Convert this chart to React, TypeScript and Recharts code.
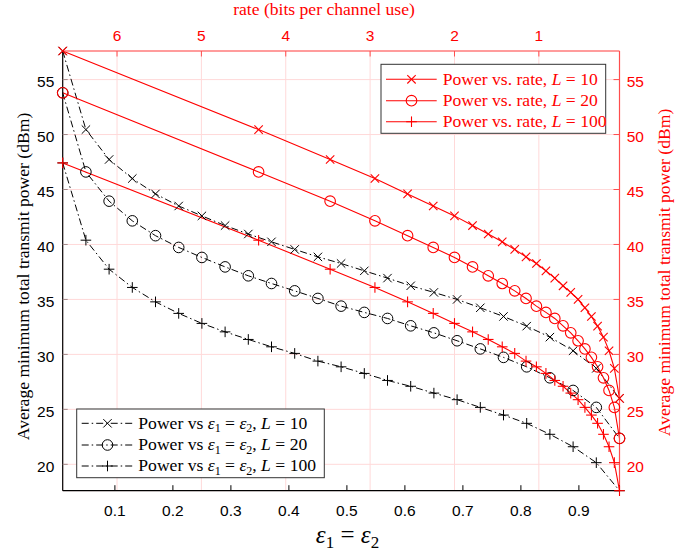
import React from "react";
import { LineChart, Line, XAxis, YAxis, CartesianGrid } from "recharts";

// ---- data ----
const epsValues = [0.01, 0.05, 0.09, 0.13, 0.17, 0.21, 0.25, 0.29, 0.33, 0.37, 0.41, 0.45, 0.49, 0.53, 0.57, 0.61, 0.65, 0.69, 0.73, 0.77, 0.81, 0.85, 0.89, 0.93, 0.97];
const rateValues = [6.644, 4.322, 3.474, 2.943, 2.556, 2.252, 2.0, 1.786, 1.6, 1.434, 1.286, 1.152, 1.029, 0.916, 0.811, 0.713, 0.622, 0.535, 0.454, 0.377, 0.304, 0.234, 0.168, 0.105, 0.044];
const powerL10 = [57.6, 50.45, 47.73, 46.0, 44.6, 43.5, 42.6, 41.72, 40.95, 40.24, 39.55, 38.87, 38.27, 37.6, 36.94, 36.24, 35.64, 35.0, 34.24, 33.45, 32.57, 31.57, 30.33, 28.73, 26.0];
const powerL20 = [53.8, 46.6, 43.94, 42.15, 40.8, 39.73, 38.82, 37.96, 37.15, 36.45, 35.78, 35.09, 34.39, 33.82, 33.27, 32.6, 31.96, 31.24, 30.5, 29.73, 28.87, 27.87, 26.72, 25.18, 22.36];
const powerL100 = [47.42, 40.39, 37.75, 36.09, 34.78, 33.73, 32.82, 32.05, 31.36, 30.69, 30.09, 29.39, 28.87, 28.27, 27.63, 27.1, 26.48, 25.88, 25.18, 24.48, 23.73, 22.73, 21.6, 20.15, 17.6];

const epsTicks = [0.1, 0.2, 0.3, 0.4, 0.5, 0.6, 0.7, 0.8, 0.9];
const rateTicks = [1, 2, 3, 4, 5, 6];
const powerTicks = [20, 25, 30, 35, 40, 45, 50, 55];
const epsDomain = [0.01, 0.97];
const rateDomain = [0.044, 6.644];
const powerDomain = [17.6, 57.6];

const rows = epsValues.map((e, i) => ({
  eps: e,
  rate: rateValues[i],
  p10: powerL10[i],
  p20: powerL20[i],
  p100: powerL100[i],
}));

// ---- styles ----
const RED = "#ff0000";
const RED_AXIS = "#ff4d4d";
const GRID = "#ffd9d9";
const SANS = "'Liberation Sans', Arial, Helvetica, sans-serif";
const SERIF = "'Liberation Serif', 'Times New Roman', Times, serif";
const TICK_FS = 15.5;
const TITLE_FS = 17.6;
const DASHDOT = "7 3 1.5 3";

type MarkerKind = "x" | "o" | "+";

function Marker({ kind, cx, cy, color, sw }: { kind: MarkerKind; cx: number; cy: number; color: string; sw: number }) {
  if (cx == null || cy == null || isNaN(cx) || isNaN(cy)) return null;
  if (kind === "x") {
    const h = 4.2;
    return (
      <g>
        <line x1={cx - h} y1={cy - h} x2={cx + h} y2={cy + h} stroke={color} strokeWidth={sw} />
        <line x1={cx - h} y1={cy + h} x2={cx + h} y2={cy - h} stroke={color} strokeWidth={sw} />
      </g>
    );
  }
  if (kind === "o") {
    return <circle cx={cx} cy={cy} r={5.3} fill="none" stroke={color} strokeWidth={sw} />;
  }
  const h = 5.3;
  return (
    <g>
      <line x1={cx - h} y1={cy} x2={cx + h} y2={cy} stroke={color} strokeWidth={sw} />
      <line x1={cx} y1={cy - h} x2={cx} y2={cy + h} stroke={color} strokeWidth={sw} />
    </g>
  );
}

const makeDot = (kind: MarkerKind, color: string, sw: number) => (props: any) => (
  <Marker key={`${kind}-${color}-${props.index}`} kind={kind} cx={props.cx} cy={props.cy} color={color} sw={sw} />
);

// ---- ticks ----
const BottomTick = (props: any) => {
  const { x, y, payload } = props;
  return (
    <g>
      <line x1={x} x2={x} y1={y} y2={y - 5.5} stroke="#000" strokeWidth={1} />
      <text x={x} y={y + 25} textAnchor="middle" fontSize={TICK_FS} fontFamily={SANS} fill="#000">
        {String(payload.value)}
      </text>
    </g>
  );
};
const LeftTick = (props: any) => {
  const { x, y, payload } = props;
  return (
    <g>
      <line x1={x} x2={x + 5} y1={y} y2={y} stroke="#a08888" strokeWidth={1} />
      <text x={x - 8.4} y={y + 7.3} textAnchor="end" fontSize={TICK_FS} fontFamily={SANS} fill="#000">
        {String(payload.value)}
      </text>
    </g>
  );
};
const RightTick = (props: any) => {
  const { x, y, payload } = props;
  return (
    <g>
      <line x1={x} x2={x - 6} y1={y} y2={y} stroke={RED_AXIS} strokeWidth={1} />
      <text x={x + 7.2} y={y + 7.8} textAnchor="start" fontSize={TICK_FS} fontFamily={SANS} fill={RED}>
        {String(payload.value)}
      </text>
    </g>
  );
};
const TopTick = (props: any) => {
  const { x, y, payload } = props;
  return (
    <g>
      <line x1={x} x2={x} y1={y} y2={y + 5.5} stroke={RED_AXIS} strokeWidth={1} />
      <text x={x} y={y - 10} textAnchor="middle" fontSize={TICK_FS} fontFamily={SANS} fill={RED}>
        {String(payload.value)}
      </text>
    </g>
  );
};

function BlackLegendRow({ y, kind, label }: { y: number; kind: MarkerKind; label: string }) {
  return (
    <g>
      <line x1={81.7} x2={133.3} y1={y} y2={y} stroke="#000" strokeWidth={1} strokeDasharray={DASHDOT} />
      <Marker kind={kind} cx={107.5} cy={y} color="#000" sw={1} />
      <text x={138.3} y={y + 5.3} fontFamily={SERIF} fontSize={TITLE_FS} fill="#000">
        {"Power vs "}
        <tspan fontStyle="italic">{"ε"}</tspan>
        <tspan fontSize={12} dy={3.5}>{"1"}</tspan>
        <tspan dy={-3.5}>{" = "}</tspan>
        <tspan fontStyle="italic">{"ε"}</tspan>
        <tspan fontSize={12} dy={3.5}>{"2"}</tspan>
        <tspan dy={-3.5}>{", "}</tspan>
        <tspan fontStyle="italic">{"L"}</tspan>
        <tspan>{" = " + label}</tspan>
      </text>
    </g>
  );
}

function RedLegendRow({ y, kind, label }: { y: number; kind: MarkerKind; label: string }) {
  return (
    <g>
      <line x1={386} x2={436.7} y1={y} y2={y} stroke={RED} strokeWidth={1.1} />
      <Marker kind={kind} cx={411.5} cy={y} color={RED} sw={1.1} />
      <text x={442.7} y={y + 5.3} fontFamily={SERIF} fontSize={TITLE_FS} fill={RED}>
        {"Power vs. rate, "}
        <tspan fontStyle="italic">{"L"}</tspan>
        <tspan>{" = " + label}</tspan>
      </text>
    </g>
  );
}

export default function App() {
  return (
    <div style={{ position: "absolute", left: 0, top: 0, width: 700, height: 553, background: "#fff" }}>
      <LineChart width={700} height={553} data={rows} margin={{ top: 0, right: 0, bottom: 0, left: 0 }}>
        <CartesianGrid xAxisId="rate" yAxisId="right" stroke={GRID} strokeWidth={1} />
        <XAxis
          xAxisId="eps"
          dataKey="eps"
          type="number"
          orientation="bottom"
          domain={epsDomain}
          ticks={epsTicks}
          height={62.3}
          tickSize={0}
          tickMargin={0}
          tickLine={false}
          axisLine={{ stroke: "#000", strokeWidth: 1.2 }}
          tick={<BottomTick />}
          interval={0}
        />
        <XAxis
          xAxisId="rate"
          dataKey="rate"
          type="number"
          orientation="top"
          domain={rateDomain}
          reversed
          ticks={rateTicks}
          height={51}
          tickSize={0}
          tickMargin={0}
          tickLine={false}
          axisLine={{ stroke: RED_AXIS, strokeWidth: 1.2 }}
          tick={<TopTick />}
          interval={0}
        />
        <YAxis
          yAxisId="left"
          type="number"
          domain={powerDomain}
          ticks={powerTicks}
          width={62.7}
          tickSize={0}
          tickMargin={0}
          tickLine={false}
          axisLine={{ stroke: "#000", strokeWidth: 1.2 }}
          tick={<LeftTick />}
          interval={0}
        />
        <YAxis
          yAxisId="right"
          orientation="right"
          type="number"
          domain={powerDomain}
          ticks={powerTicks}
          width={80.5}
          tickSize={0}
          tickMargin={0}
          tickLine={false}
          axisLine={{ stroke: RED_AXIS, strokeWidth: 1.2 }}
          tick={<RightTick />}
          interval={0}
        />

        <Line xAxisId="eps" yAxisId="left" dataKey="p10" type="linear" stroke="#000" strokeWidth={1} strokeDasharray={DASHDOT} dot={makeDot("x", "#000", 1)} activeDot={false} isAnimationActive={false} />
        <Line xAxisId="eps" yAxisId="left" dataKey="p20" type="linear" stroke="#000" strokeWidth={1} strokeDasharray={DASHDOT} dot={makeDot("o", "#000", 1)} activeDot={false} isAnimationActive={false} />
        <Line xAxisId="eps" yAxisId="left" dataKey="p100" type="linear" stroke="#000" strokeWidth={1} strokeDasharray={DASHDOT} dot={makeDot("+", "#000", 1)} activeDot={false} isAnimationActive={false} />

        <Line xAxisId="rate" yAxisId="right" dataKey="p10" type="linear" stroke={RED} strokeWidth={1.1} dot={makeDot("x", RED, 1.1)} activeDot={false} isAnimationActive={false} />
        <Line xAxisId="rate" yAxisId="right" dataKey="p20" type="linear" stroke={RED} strokeWidth={1.1} dot={makeDot("o", RED, 1.1)} activeDot={false} isAnimationActive={false} />
        <Line xAxisId="rate" yAxisId="right" dataKey="p100" type="linear" stroke={RED} strokeWidth={1.1} dot={makeDot("+", RED, 1.1)} activeDot={false} isAnimationActive={false} />
      </LineChart>

      <svg width={700} height={553} style={{ position: "absolute", left: 0, top: 0, pointerEvents: "none" }}>
        <text x={324} y={15} textAnchor="middle" fontFamily={SERIF} fontSize={TITLE_FS} fill={RED}>
          rate (bits per channel use)
        </text>
        <text transform="translate(23,276.5) rotate(-90)" textAnchor="middle" dominantBaseline="central" fontFamily={SERIF} fontSize={TITLE_FS} fill="#000">
          Average minimum total transmit power (dBm)
        </text>
        <text transform="translate(664,272.5) rotate(-90)" textAnchor="middle" dominantBaseline="central" fontFamily={SERIF} fontSize={TITLE_FS} fill={RED}>
          Average minimum total transmit power (dBm)
        </text>
        <text x={347.5} y={543} textAnchor="middle" fontFamily={SERIF} fontSize={25} fill="#000">
          <tspan fontStyle="italic">{"ε"}</tspan>
          <tspan fontSize={17} dy={5}>{"1"}</tspan>
          <tspan dy={-5}>{" = "}</tspan>
          <tspan fontStyle="italic">{"ε"}</tspan>
          <tspan fontSize={17} dy={5}>{"2"}</tspan>
        </text>

        <rect x={76.7} y={409} width={247.6} height={68.7} fill="#fff" stroke="#333" strokeWidth={1} />
        <BlackLegendRow y={423.3} kind="x" label="10" />
        <BlackLegendRow y={445} kind="o" label="20" />
        <BlackLegendRow y={466} kind="+" label="100" />

        <rect x={381} y={64.3} width={224.7} height={69} fill="#fff" stroke="#333" strokeWidth={1} />
        <RedLegendRow y={79.3} kind="x" label="10" />
        <RedLegendRow y={100.7} kind="o" label="20" />
        <RedLegendRow y={121.7} kind="+" label="100" />
      </svg>
    </div>
  );
}
